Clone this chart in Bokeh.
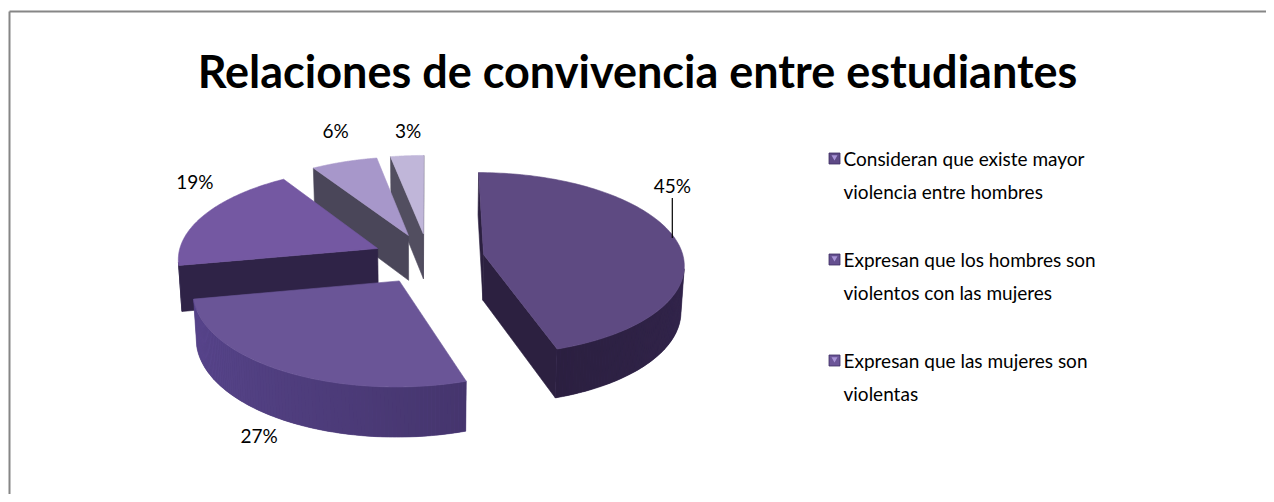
import numpy as np
from bokeh.plotting import figure
from bokeh.models import Range1d
from bokeh.core.properties import value
from bokeh.embed import file_html
from bokeh.resources import INLINE

# ---- data ----
values = [45, 27, 19, 6, 3]
pct_labels = ["45%", "27%", "19%", "6%", "3%"]
legend_labels = [
    "Consideran que existe mayor\nviolencia entre hombres",
    "Expresan que los hombres son\nviolentos con las mujeres",
    "Expresan que las mujeres son\nviolentas",
]
title_text = "Relaciones de convivencia entre estudiantes"

# ---- styles ----
top_colors = ["#5E4A82", "#6A5597", "#7458A2", "#A797CA", "#C0B6D9"]
wall_start = ["#3E2E5C", "#45356D", "#34274F", "#4A4659", "#514D5E"]
wall_end = ["#2B1F40", "#5A4790", "#30244A", "#4A4659", "#514D5E"]
cut_colors = ["#2C2040", "#3A2B58", "#2F2347", "#4A4659", "#524E60"]
legend_colors = ["#5E4A86", "#644F8F", "#6C5698"]

FONT = "Lato"

# ---- projection setup ----
phi = np.radians(27)
cphi, sphi = np.cos(phi), np.sin(phi)
D = 9.0
F = 1800.0
H = 0.26
E = 0.28
CX, CY = 428.0, 258.0
cam = np.array([0.0, D * sphi, -D * cphi])


def proj(X, Y, Z):
    X = np.asarray(X, float); Y = np.asarray(Y, float); Z = np.asarray(Z, float)
    yv = Y * cphi + Z * sphi
    zv = Z * cphi - Y * sphi + D
    return CX + F * X / zv, CY - F * yv / zv


def hexlerp(a, b, t):
    a = [int(a[i:i + 2], 16) for i in (1, 3, 5)]
    b = [int(b[i:i + 2], 16) for i in (1, 3, 5)]
    c = [round(a[k] + (b[k] - a[k]) * t) for k in range(3)]
    return "#%02x%02x%02x" % tuple(c)


p = figure(width=1266, height=494, x_range=Range1d(0, 1266), y_range=Range1d(494, 0),
           output_backend="svg", toolbar_location=None, min_border=0,
           x_axis_location=None, y_axis_location=None)
p.grid.visible = False
p.outline_line_color = None
p.background_fill_color = "white"
p.border_fill_color = "white"

# border (top + left visible in the crop)
p.line(x=[9, 1266], y=[11, 11], line_color="#868686", line_width=2)
p.line(x=[9, 9], y=[11, 494], line_color="#868686", line_width=2)

total = float(sum(values))
cum = np.concatenate([[0], np.cumsum(values)]) / total
slices = []
for i, v in enumerate(values):
    a1 = np.pi / 2 - 2 * np.pi * cum[i]
    a2 = np.pi / 2 - 2 * np.pi * cum[i + 1]
    mid = (a1 + a2) / 2
    ox, oz = E * np.cos(mid), E * np.sin(mid)
    cxz = np.array([ox + 0.5 * np.cos(mid), -H / 2, oz + 0.5 * np.sin(mid)])
    dist = np.linalg.norm(cam - cxz)
    slices.append(dict(i=i, a1=a1, a2=a2, mid=mid, ox=ox, oz=oz, dist=dist))

order = sorted(slices, key=lambda s: -s["dist"])

for s in order:
    i, a1, a2, ox, oz = s["i"], s["a1"], s["a2"], s["ox"], s["oz"]
    # radial cut faces
    for alpha, sgn in ((a1, 1), (a2, -1)):
        nang = alpha + sgn * np.pi / 2
        n = np.array([np.cos(nang), 0, np.sin(nang)])
        pm = np.array([ox + 0.5 * np.cos(alpha), -H / 2, oz + 0.5 * np.sin(alpha)])
        if np.dot(n, cam - pm) > 0:
            X = [ox, ox + np.cos(alpha), ox + np.cos(alpha), ox]
            Y = [0, 0, -H, -H]
            Z = [oz, oz + np.sin(alpha), oz + np.sin(alpha), oz]
            sx, sy = proj(X, Y, Z)
            p.patch(x=list(sx), y=list(sy), fill_color=cut_colors[i],
                    line_color=cut_colors[i], line_width=0.6)
    # outer wall: visible runs
    nseg = max(8, int(abs(a1 - a2) / np.radians(1.0)))
    ts = np.linspace(a1, a2, nseg + 1)
    vis = []
    for j in range(nseg):
        tm = (ts[j] + ts[j + 1]) / 2
        n = np.array([np.cos(tm), 0, np.sin(tm)])
        pm = np.array([ox + np.cos(tm), -H / 2, oz + np.sin(tm)])
        vis.append(np.dot(n, cam - pm) > 0)
    j = 0
    while j < nseg:
        if not vis[j]:
            j += 1
            continue
        k = j
        while k < nseg and vis[k]:
            k += 1
        tr = ts[j:k + 1]
        Xt = ox + np.cos(tr); Zt = oz + np.sin(tr)
        tx, ty = proj(Xt, np.zeros_like(Xt), Zt)
        bx, by = proj(Xt, np.full_like(Xt, -H), Zt)
        base = hexlerp(wall_start[i], wall_end[i], 0.5)
        p.patch(x=list(tx) + list(bx[::-1]), y=list(ty) + list(by[::-1]),
                fill_color=base, line_color=base, line_width=0.6)
        # gradient bands on top (no outlines)
        xs, ys, cols = [], [], []
        for q in range(j, k):
            qi = q - j
            xs.append([tx[qi], tx[qi + 1], bx[qi + 1], bx[qi]])
            ys.append([ty[qi], ty[qi + 1], by[qi + 1], by[qi]])
            cols.append(hexlerp(wall_start[i], wall_end[i], (q + 0.5) / nseg))
        p.patches(xs=xs, ys=ys, fill_color=cols, line_color=None)
        j = k
    # top face
    tt = np.linspace(a1, a2, 120)
    X = np.concatenate([[ox], ox + np.cos(tt)])
    Z = np.concatenate([[oz], oz + np.sin(tt)])
    sx, sy = proj(X, np.zeros_like(X), Z)
    p.patch(x=list(sx), y=list(sy), fill_color=top_colors[i], line_color=top_colors[i], line_width=0.6)

# percentage labels
lab_nudge = [(-42, -52), (3, 45), (23, -27), (3, -18), (4, -11)]
lx, ly = [], []
for s in slices:
    i = s["i"]
    X = s["ox"] + 1.2 * np.cos(s["mid"])
    Z = s["oz"] + 1.2 * np.sin(s["mid"])
    sx, sy = proj([X], [0], [Z])
    lx.append(float(sx[0]) + lab_nudge[i][0])
    ly.append(float(sy[0]) + lab_nudge[i][1])
p.text(x=lx, y=ly, text=pct_labels, text_font=value(FONT), text_font_size="19px",
       text_align="center", text_baseline="middle", text_color="#000000")
# leader line for the first label
p.line(x=[lx[0], lx[0]], y=[ly[0] + 12, ly[0] + 52], line_color="#000000", line_width=1.2)

# title
p.text(x=[637], y=[70], text=[title_text], text_font=value(FONT), text_font_size="45px",
       text_font_style="bold", text_align="center", text_baseline="middle", text_color="#000000")

# legend
leg_x, leg_y0, leg_step, line_gap = 834, 158, 101, 33
for k, lab in enumerate(legend_labels):
    yk = leg_y0 + k * leg_step
    p.scatter(x=[leg_x], y=[yk], marker="square", size=11, fill_color=legend_colors[k],
              line_color="#3E2E62", line_width=0.8)
    p.scatter(x=[leg_x], y=[yk - 1.5], marker="inverted_triangle", size=6,
              fill_color="#A994D6", line_color=None)
    for m, ln in enumerate(lab.split("\n")):
        p.text(x=[843], y=[yk + m * line_gap], text=[ln], text_font=value(FONT),
               text_font_size="19px", text_align="left", text_baseline="middle",
               text_color="#000000")

open("out.html", "w").write(file_html(p, INLINE))
